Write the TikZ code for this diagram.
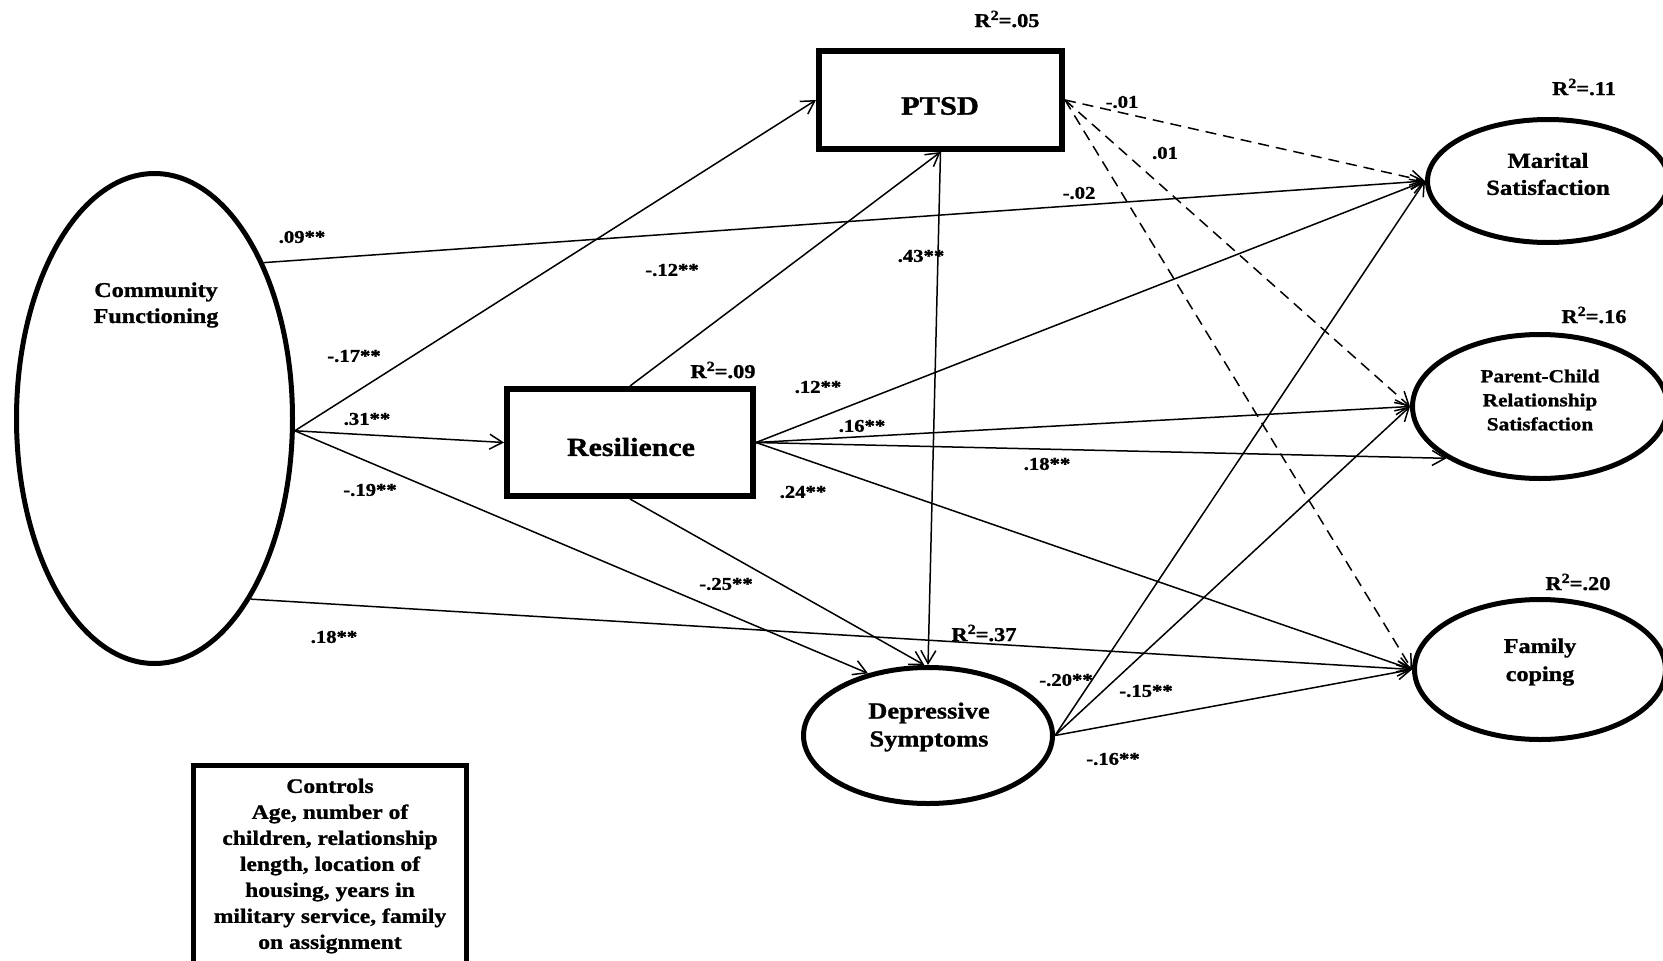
\documentclass[tikz,border=0pt]{standalone}
\usepackage{fontspec}
\setmainfont{Liberation Serif}[FakeStretch=1.15,BoldFeatures={FakeBold=1.2}]
\usetikzlibrary{arrows.meta,shapes.geometric}
\newcommand{\rsq}[1]{R\raisebox{0.36em}{\fontsize{14}{14}\selectfont 2}=#1}
\begin{document}
\begin{tikzpicture}[x=1pt,y=-1pt,
  conn/.style={line width=1.5pt,-{Straight Barb[length=13pt,width=15pt,line width=1.5pt]}},
  dconn/.style={conn,dash pattern=on 11pt off 7pt},
  lbl/.style={font=\fontsize{18}{21}\selectfont\bfseries,inner sep=0pt},
  rlbl/.style={font=\fontsize{19.5}{21}\selectfont\bfseries,inner sep=0pt},
  ell/.style={ellipse,draw,line width=5pt,inner sep=0pt},
  boxn/.style={rectangle,draw,line width=6pt,inner sep=0pt},
  txt/.style={align=center,inner sep=0pt}]
\useasboundingbox (0,0) rectangle (1663,961);
\clip (0,0) rectangle (1663,961);
% shapes
\node[ell,minimum width=276pt,minimum height=490pt] (cf) at (154.5,418.5) {};
\node[boxn,minimum width=243pt,minimum height=98pt] (ptsd) at (940.5,100) {};
\node[boxn,minimum width=246pt,minimum height=107pt] (res) at (630,442.5) {};
\node[ell,minimum width=249pt,minimum height=136pt] (dep) at (928,735.5) {};
\node[ell,minimum width=241pt,minimum height=123pt] (mar) at (1548,181) {};
\node[ell,minimum width=255pt,minimum height=144pt] (pc) at (1540,406.5) {};
\node[ell,minimum width=251pt,minimum height=140pt] (fc) at (1540,669.5) {};
\node[rectangle,draw,line width=5pt,inner sep=0pt,minimum width=273pt,minimum height=260pt,anchor=north] (ctrl) at (330,763) {};
% texts
\node[txt,font=\fontsize{21}{26}\selectfont\bfseries] (cft) at (156,305) {Community\\Functioning};
\node[txt,font=\fontsize{26.5}{30}\selectfont\bfseries] (ptsdt) at (940,106) {PTSD};
\node[txt,font=\fontsize{26}{30}\selectfont\bfseries] (rest) at (631,447) {Resilience};
\node[txt,font=\fontsize{23}{28}\selectfont\bfseries] (dept) at (929,727) {Depressive\\Symptoms};
\node[txt,font=\fontsize{21.5}{27}\selectfont\bfseries] (mart) at (1548,174) {Marital\\Satisfaction};
\node[txt,font=\fontsize{18.5}{24}\selectfont\bfseries] (pct) at (1540,400) {Parent-Child\\Relationship\\Satisfaction};
\node[txt,font=\fontsize{21}{28}\selectfont\bfseries] (fct) at (1540,662) {Family\\coping};
\node[txt,font=\fontsize{20.5}{26}\selectfont\bfseries] (ctrlt) at (330,866) {Controls\\Age, number of\\children, relationship\\length, location of\\housing, years in\\military service, family\\on assignment};
% R squared
\node[rlbl] (r2ptsd) at (1007,19) {\rsq{.05}};
\node[rlbl] (r2mar) at (1584,87) {\rsq{.11}};
\node[rlbl] (r2pc) at (1594,315) {\rsq{.16}};
\node[rlbl] (r2fc) at (1578,582) {\rsq{.20}};
\node[rlbl] (r2res) at (723,370) {\rsq{.09}};
\node[rlbl] (r2dep) at (984,633) {\rsq{.37}};
% connectors
\draw[conn] (cf.-5) -- (ptsd.west);
\draw[conn] (cf.-5) -- (res.west);
\draw[conn] (cf.-5) -- (dep.134);
\draw[conn] (cf.55) -- (mar.west);
\draw[conn] (cf.-62) -- (fc.west);
\draw[conn] (res.north) -- (ptsd.south);
\draw[conn] (res.south) -- (dep.93);
\draw[conn] (ptsd.south) -- (dep.north);
\draw[conn] (res.east) -- (mar.west);
\draw[conn] (res.east) -- (pc.west);
\draw[conn] (res.east) -- (pc.209);
\draw[conn] (res.east) -- (fc.west);
\draw[conn] (dep.east) -- (mar.west);
\draw[conn] (dep.east) -- (pc.west);
\draw[conn] (dep.east) -- (fc.west);
\draw[dconn] (ptsd.east) -- (mar.west);
\draw[dconn] (ptsd.east) -- (pc.west);
\draw[dconn] (ptsd.east) -- (fc.west);
% path labels
\node[lbl] (l09) at (302,237) {.09**};
\node[lbl] (l17) at (354,356) {-.17**};
\node[lbl] (l31) at (367,419) {.31**};
\node[lbl] (l19) at (370,490) {-.19**};
\node[lbl] (l12n) at (672,270) {-.12**};
\node[lbl] (l12) at (818,387) {.12**};
\node[lbl] (l16) at (862,426) {.16**};
\node[lbl] (l18r) at (1047,464) {.18**};
\node[lbl] (l24) at (803,492) {.24**};
\node[lbl] (l25) at (726,584) {-.25**};
\node[lbl] (l43) at (921,256) {.43**};
\node[lbl] (l18c) at (334,637) {.18**};
\node[lbl] (l20) at (1066,680) {-.20**};
\node[lbl] (l15) at (1146,691) {-.15**};
\node[lbl] (l16n) at (1113,759) {-.16**};
\node[lbl] (l01n) at (1122,102) {-.01};
\node[lbl] (l01) at (1165,153) {.01};
\node[lbl] (l02n) at (1079,193) {-.02};
\end{tikzpicture}
\end{document}
